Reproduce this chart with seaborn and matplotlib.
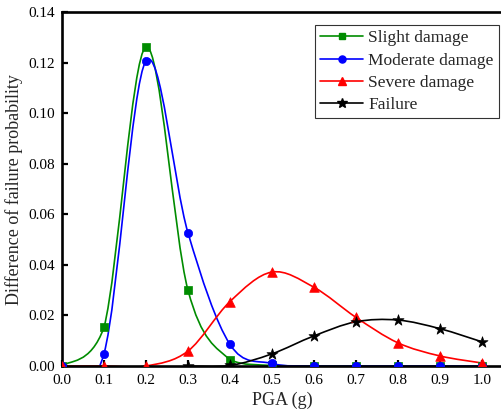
import matplotlib
matplotlib.use("Agg")
import matplotlib.pyplot as plt
import numpy as np
import pandas as pd
import seaborn as sns
from matplotlib.lines import Line2D
from matplotlib.patches import PathPatch
from matplotlib.path import Path

# Data
pga = [0.0, 0.1, 0.2, 0.3, 0.4, 0.5, 0.6, 0.7, 0.8, 0.9, 1.0]
slight = [0.0, 0.0153, 0.1263, 0.0301, 0.0025, 0.0002, 0.0, 0.0, 0.0, 0.0, 0.0]
moderate = [0.0, 0.0049, 0.1208, 0.0528, 0.0086, 0.0010, 0.0, 0.0, 0.0, 0.0, 0.0]
severe = [0.0, 0.0, 0.0, 0.0059, 0.0255, 0.0372, 0.0312, 0.0193, 0.0092, 0.0040, 0.0012]
pga_fail = [0.3, 0.4, 0.5, 0.6, 0.7, 0.8, 0.9, 1.0]
failure = [0.0, 0.0002, 0.0048, 0.0119, 0.0175, 0.0182, 0.0148, 0.0096]

# label, x, y, colour, marker, marker area, keep curve above zero
series = [
    ("Slight damage", pga, slight, "#008c00", "s", 26, True),
    ("Moderate damage", pga, moderate, "#0000ff", "o", 36, False),
    ("Severe damage", pga, severe, "#ff0000", "^", 48, False),
    ("Failure", pga_fail, failure, "#000000", "*", 70, False),
]


def spline_path(x, y, clamp):
    """Smooth curve through the points (Catmull-Rom as cubic Bezier)."""
    p = np.column_stack([x, y])
    p = np.vstack([p[0], p, p[-1]])
    verts = [p[1]]
    codes = [Path.MOVETO]
    for i in range(1, len(p) - 2):
        c1 = p[i] + (p[i + 1] - p[i - 1]) / 6.0
        c2 = p[i + 1] - (p[i + 2] - p[i]) / 6.0
        if clamp:
            c1[1] = max(c1[1], 0.0)
            c2[1] = max(c2[1], 0.0)
        verts += [c1, c2, p[i + 1]]
        codes += [Path.CURVE4] * 3
    return Path(verts, codes)


sns.set_theme(style="ticks")
plt.rcParams["font.family"] = ["Liberation Serif", "DejaVu Serif"]

fig = plt.figure(figsize=(5.01, 4.16), dpi=100)
ax = fig.add_axes([0.1238, 0.1202, 0.8796, 0.8498])

handles = []
for label, xs, ys, color, marker, size, clamp in series:
    ax.add_patch(PathPatch(spline_path(xs, ys, clamp), facecolor="none",
                           edgecolor=color, linewidth=1.2, zorder=2))
    df = pd.DataFrame({"x": xs, "y": ys})
    sns.scatterplot(data=df, x="x", y="y", marker=marker, s=size, color=color,
                    edgecolor=color, linewidth=0.5, ax=ax, zorder=3, legend=False)
    handles.append(Line2D([], [], color=color, linewidth=1.2, marker=marker,
                          markersize=np.sqrt(size) * 0.85, label=label))

ax.set_xlim(0, 1.05)
ax.set_ylim(0, 0.14)
ax.set_xticks(np.arange(0, 1.01, 0.1))
ax.set_xticklabels([f"{v:.1f}" for v in np.arange(0, 1.01, 0.1)])
ax.set_yticks(np.arange(0, 0.141, 0.02))
ax.set_yticklabels([f"{v:.2f}" for v in np.arange(0, 0.141, 0.02)])

for s in ax.spines.values():
    s.set_linewidth(1.9)
    s.set_color("black")
ax.tick_params(direction="in", length=4, width=1.6, labelsize=11,
               colors="black", top=False, right=False)
ax.tick_params(axis="x", pad=6)
ax.tick_params(axis="y", pad=5)

ax.set_xlabel("PGA (g)", fontsize=13, labelpad=3)
ax.set_ylabel("Difference of failure probability", fontsize=13, labelpad=4)

leg = ax.legend(handles=handles, loc="upper right", bbox_to_anchor=(0.9916, 0.9646),
                fontsize=12.5, frameon=True, fancybox=False, handlelength=2.5,
                handletextpad=0.3, borderpad=0.3, labelspacing=0.35,
                borderaxespad=0.0)
leg.get_frame().set_edgecolor("black")
leg.get_frame().set_linewidth(0.8)

fig.savefig("out.png", dpi=100)
